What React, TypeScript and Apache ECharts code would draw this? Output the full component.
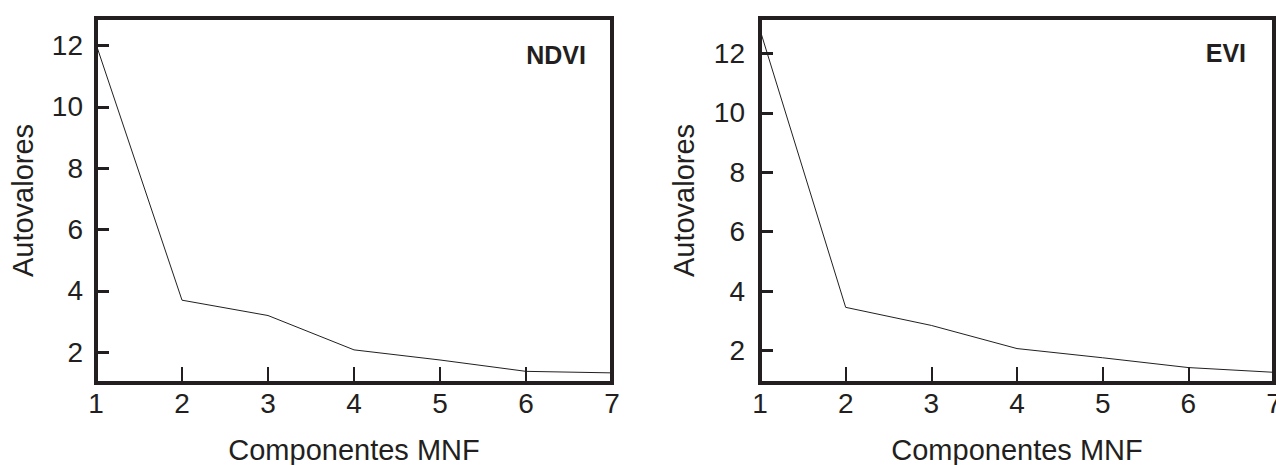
import React, { useEffect, useRef } from "react";
import * as echarts from "echarts";

const components = [1, 2, 3, 4, 5, 6, 7];
const ndviValues = [12.05, 3.7, 3.2, 2.08, 1.75, 1.38, 1.33];
const eviValues = [12.8, 3.45, 2.84, 2.06, 1.75, 1.42, 1.26];
const yTickValues = [2, 4, 6, 8, 10, 12];
const xTickValues = [2, 3, 4, 5, 6];
const xLabelValues = [1, 2, 3, 4, 5, 6, 7];
const panelLabels = ["NDVI", "EVI"];
const xAxisName = "Componentes MNF";
const yAxisName = "Autovalores";

const INK = "#231f20";
const FONT = "'Liberation Sans', Arial, Helvetica, sans-serif";

export default function App() {
  const ref = useRef<HTMLDivElement>(null);

  useEffect(() => {
    if (!ref.current) return;
    const chart = echarts.init(ref.current, undefined, { renderer: "svg" });

    const grids = [
      { left: 96, top: 18, width: 516, height: 365 },
      { left: 760, top: 18, width: 514, height: 365 },
    ];
    const yRanges = [
      { min: 1, max: 12.9 },
      { min: 0.9, max: 13.2 },
    ];
    const yLabelMargins = [13, 15];
    const yNameGaps = [59, 62];
    const seriesValues = [ndviValues, eviValues];

    const option: any = {
      animation: false,
      backgroundColor: "#ffffff",
      textStyle: { fontFamily: FONT, color: INK },
      grid: grids.map((g) => ({
        ...g,
        show: true,
        borderColor: INK,
        borderWidth: 4,
        backgroundColor: "transparent",
        containLabel: false,
        outerBoundsMode: "none",
      })),
      xAxis: grids.map((_, i) => ({
        type: "value",
        gridIndex: i,
        min: 1,
        max: 7,
        name: xAxisName,
        nameLocation: "middle",
        nameGap: 52,
        nameTextStyle: { fontFamily: FONT, fontSize: 29, color: INK },
        axisLine: { show: false },
        splitLine: { show: false },
        axisTick: {
          show: true,
          inside: true,
          length: 16,
          customValues: xTickValues,
          lineStyle: { color: INK, width: 2 },
        },
        axisLabel: {
          show: true,
          customValues: xLabelValues,
          margin: 6,
          fontFamily: FONT,
          fontSize: 28,
          color: INK,
        },
      })),
      yAxis: grids.map((_, i) => ({
        type: "value",
        gridIndex: i,
        min: yRanges[i].min,
        max: yRanges[i].max,
        name: yAxisName,
        nameLocation: "middle",
        nameGap: yNameGaps[i],
        nameRotate: 90,
        nameTextStyle: { fontFamily: FONT, fontSize: 29, color: INK },
        axisLine: { show: false },
        splitLine: { show: false },
        axisTick: {
          show: true,
          inside: true,
          length: 13,
          customValues: yTickValues,
          lineStyle: { color: INK, width: 3 },
        },
        axisLabel: {
          show: true,
          customValues: yTickValues,
          margin: yLabelMargins[i],
          fontFamily: FONT,
          fontSize: 28,
          color: INK,
        },
      })),
      series: seriesValues.map((vals, i) => ({
        type: "line",
        xAxisIndex: i,
        yAxisIndex: i,
        showSymbol: false,
        symbol: "none",
        lineStyle: { color: INK, width: 1 },
        data: components.map((c, k) => [c, vals[k]]),
      })),
      graphic: [
        {
          type: "text",
          x: 586,
          y: 55,
          style: {
            text: panelLabels[0],
            font: `bold 25px ${FONT}`,
            fill: INK,
            textAlign: "right",
            textVerticalAlign: "middle",
          },
        },
        {
          type: "text",
          x: 1246,
          y: 53,
          style: {
            text: panelLabels[1],
            font: `bold 25px ${FONT}`,
            fill: INK,
            textAlign: "right",
            textVerticalAlign: "middle",
          },
        },
      ],
    };

    chart.setOption(option);
    return () => chart.dispose();
  }, []);

  return (
    <div
      ref={ref}
      style={{ position: "fixed", left: 0, top: 0, width: 1276, height: 465 }}
    />
  );
}
